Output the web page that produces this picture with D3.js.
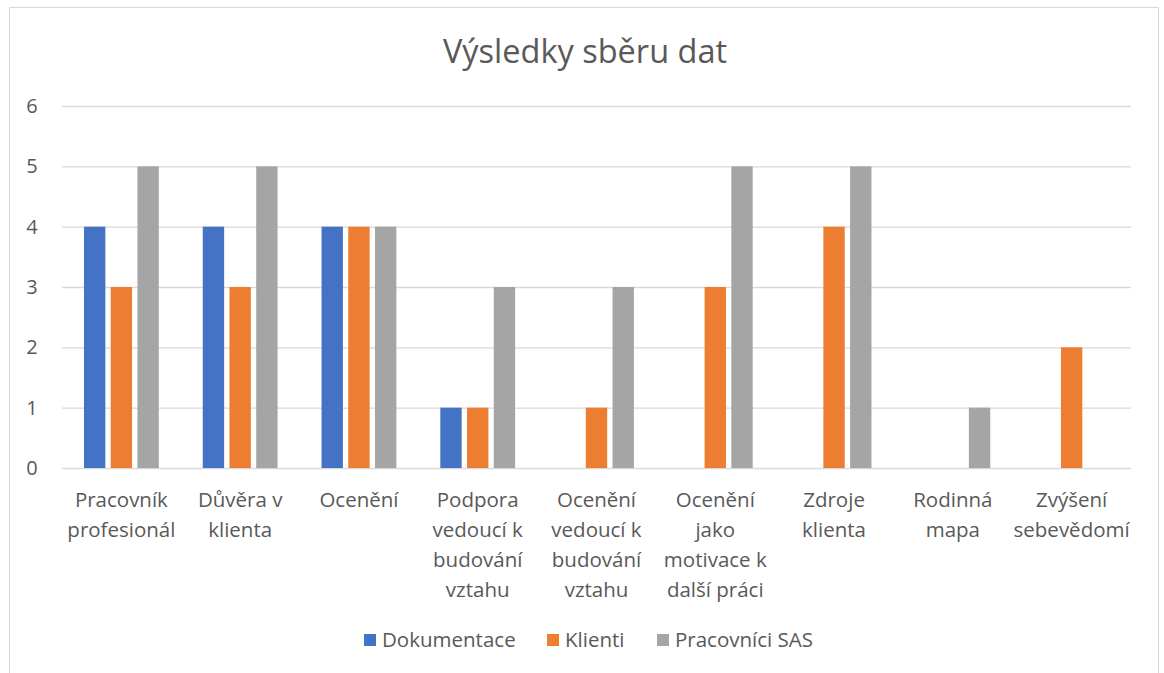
<!DOCTYPE html>
<html>
<head>
<meta charset="utf-8">
<script src="https://cdn.jsdelivr.net/npm/d3@7"></script>
<style>
  body { margin: 0; background: #fff; }
  text { font-family: "Open Sans", sans-serif; fill: #595959; }
</style>
</head>
<body>
<div id="chart"></div>
<script>
// category labels, already split into the lines shown under the axis
const categories = [
    ["Pracovník", "profesionál"],
    ["Důvěra v", "klienta"],
    ["Ocenění"],
    ["Podpora", "vedoucí k", "budování", "vztahu"],
    ["Ocenění", "vedoucí k", "budování", "vztahu"],
    ["Ocenění", "jako", "motivace k", "další práci"],
    ["Zdroje", "klienta"],
    ["Rodinná", "mapa"],
    ["Zvýšení", "sebevědomí"]
];
const series_names = ["Dokumentace", "Klienti", "Pracovníci SAS"];
const dokumentace = [4, 4, 4, 1, 0, 0, 0, 0, 0];
const klienti = [3, 3, 4, 1, 1, 3, 4, 0, 2];
const pracovnici = [5, 5, 4, 3, 3, 5, 5, 1, 0];
const y_ticks = [0, 1, 2, 3, 4, 5, 6];

const colors = ["#4472c4", "#ed7d31", "#a5a5a5"];
const W = 1164, H = 673;
const plot = {left: 62, right: 1131, top: 106, bottom: 468};

const svg = d3.select("#chart")
    .append("svg")
    .attr("width", W)
    .attr("height", H);

// outer chart border
svg.append("rect")
    .attr("x", 9.5).attr("y", 7.5)
    .attr("width", 1149).attr("height", 680)
    .attr("fill", "white")
    .attr("stroke", "#d9d9d9");

svg.append("text")
    .attr("x", 585).attr("y", 63)
    .attr("text-anchor", "middle")
    .style("font-size", "32.5px")
    .text("Výsledky sběru dat");

const idx = d3.range(categories.length);
const x = d3.scaleBand()
    .domain(idx)
    .range([plot.left, plot.right])
    .paddingInner(0.37)
    .paddingOuter(0.185);
const x1 = d3.scaleBand()
    .domain(d3.range(3))
    .range([0, x.bandwidth()])
    .paddingInner(0.2);
const y = d3.scaleLinear()
    .domain([0, 6])
    .range([plot.bottom, plot.top]);

// grid + y labels
const yAxis = svg.append("g")
    .attr("transform", "translate(" + plot.left + ",0)")
    .call(d3.axisLeft(y).tickValues(y_ticks).tickFormat(d3.format("d"))
        .tickSize(-(plot.right - plot.left)).tickPadding(30));
yAxis.select(".domain").remove();
yAxis.selectAll("line").attr("stroke", "#d9d9d9").attr("stroke-width", 1.3);
yAxis.selectAll("text")
    .style("font-size", "20px")
    .style("font-family", "'Open Sans', sans-serif")
    .attr("fill", "#595959")
    .attr("text-anchor", "middle");

const data = [dokumentace, klienti, pracovnici];
const groups = svg.selectAll(".grp")
    .data(idx)
    .enter().append("g")
    .attr("transform", i => "translate(" + x(i) + ",0)");

groups.selectAll("rect")
    .data(i => data.map((s, k) => ({k: k, v: s[i]})))
    .enter().append("rect")
    .attr("x", d => x1(d.k))
    .attr("width", x1.bandwidth())
    .attr("y", d => y(d.v))
    .attr("height", d => y(0) - y(d.v))
    .attr("fill", d => colors[d.k]);

// category labels
const cx = i => x(i) + x.bandwidth() / 2;
const lab = svg.append("g");
idx.forEach(function (i) {
    const t = lab.append("text")
        .attr("text-anchor", "middle")
        .style("font-size", "20.5px");
    categories[i].forEach(function (line, j) {
        t.append("tspan")
            .attr("x", cx(i))
            .attr("y", plot.bottom + 39 + j * 30)
            .text(line);
    });
});

// legend
const legend_x = [364, 547, 657];
const leg = svg.append("g");
series_names.forEach(function (name, k) {
    leg.append("rect")
        .attr("x", legend_x[k]).attr("y", 634)
        .attr("width", 12).attr("height", 12)
        .attr("fill", colors[k]);
    leg.append("text")
        .attr("x", legend_x[k] + 18).attr("y", 647)
        .style("font-size", "20.5px")
        .text(name);
});
</script>
</body>
</html>
